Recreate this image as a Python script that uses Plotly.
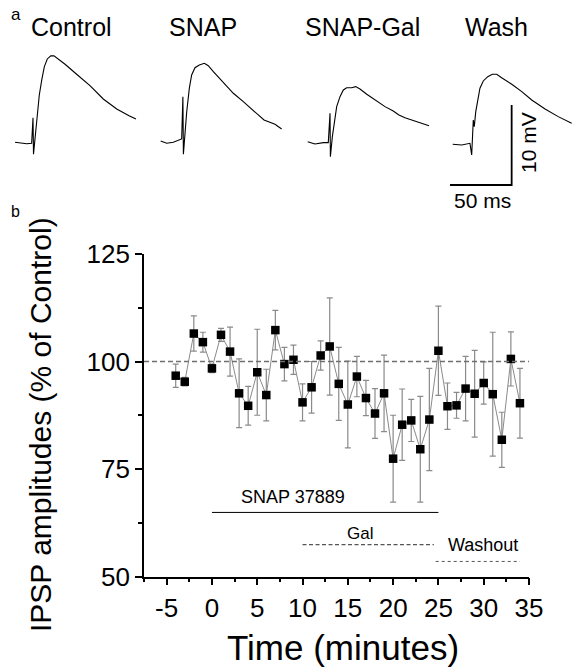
import plotly.graph_objects as go

# ---------------- data: panel b ----------------
time_min = list(range(-4, 35))
ipsp_mean = [96.7, 95.3, 106.5, 104.5, 98.4, 106.2, 102.3, 92.6, 89.7, 97.5,
             92.2, 107.3, 99.4, 100.4, 90.5, 94.0, 101.4, 103.5, 94.8, 90.0,
             96.5, 91.5, 87.9, 92.6, 77.4, 85.3, 86.3, 79.6, 86.5, 102.5,
             89.6, 89.8, 93.7, 92.5, 95.0, 92.4, 81.8, 100.6, 90.3]
ipsp_sem = [2.7, 1.0, 4.1, 2.3, 1.0, 1.5, 5.7, 8.0, 4.5, 10.0,
            6.0, 4.6, 3.9, 3.4, 4.3, 6.0, 3.4, 11.3, 8.5, 10.1,
            4.7, 4.1, 5.8, 8.9, 10.1, 8.3, 4.9, 12.3, 11.9, 10.4,
            5.4, 3.0, 7.5, 10.1, 4.9, 14.4, 6.4, 6.3, 8.1]
control_level = 100
snap_period = [0, 25]
gal_period = [10, 24.5]
wash_period = [24.7, 34]
x_ticks = [-5, 0, 5, 10, 15, 20, 25, 30, 35]
x_tick_text = ["-5", "0", "5", "10", "15", "20", "25", "30", "35"]
y_ticks = [50, 75, 100, 125]

# ---------------- data: panel a (traces, ms from trace start, mV from baseline) ----------------
ctrl_t = [0, 4.1, 9.5, 13.5, 14.6, 15.0, 16.5, 18.1, 19.7, 21.7, 23.8, 26.2, 29.0, 31.6,
          35.1, 40.6, 50.0, 60.8, 71.6, 82.5, 92.5, 98.1]
ctrl_v = [0.09, 0.0, -0.09, -0.04, 3.16, -1.41, 1.09, 3.91, 6.0, 7.88, 9.54, 10.5, 10.88,
          10.88, 10.5, 9.84, 8.59, 7.16, 5.5, 4.25, 3.41, 3.0]
snap_t = [0, 4.9, 10.2, 15.1, 17.0, 18.0, 18.4, 19.8, 21.1, 23.2, 25.1, 27.8, 31.3, 35.4,
          38.6, 42.7, 50.8, 58.9, 67.0, 75.1, 83.8, 92.7, 98.1]
snap_v = [0.13, -0.16, -0.04, 0.25, 0.38, 5.66, -1.54, 1.21, 3.79, 6.71, 8.38, 9.29, 9.63,
          9.84, 9.54, 8.79, 7.46, 6.09, 5.04, 3.88, 2.75, 2.21, 1.63]
gal_t = [0, 5.9, 12.7, 16.7, 18.1, 18.4, 20.0, 21.6, 23.5, 26.2, 28.9, 31.6, 35.7, 38.9,
         42.4, 47.9, 54.6, 62.7, 69.4, 74.0, 78.9, 87.0, 98.4]
gal_v = [0.16, -0.13, 0.04, 0.04, 3.71, -1.71, 0.79, 2.66, 4.54, 5.79, 6.63, 6.91, 6.91,
         7.04, 6.75, 6.09, 5.38, 4.54, 4.0, 3.5, 3.16, 2.75, 2.16]
wash_t = [0, 7.3, 14.0, 15.4, 16.7, 17.5, 18.7, 20.3, 22.1, 24.8, 28.4, 32.1, 35.7, 39.7,
          47.9, 56.0, 64.1, 74.9, 85.6, 96.5]
wash_v = [0.03, -0.06, 0.15, -1.31, 3.06, 2.23, 4.1, 5.78, 7.03, 7.94, 8.48, 8.78, 8.78,
          8.35, 7.53, 6.6, 5.56, 4.44, 3.48, 2.65]
trace_labels = ["Control", "SNAP", "SNAP-Gal", "Wash"]
scale_ms = 50
scale_mv = 10

# ---------------- layout constants ----------------
W, H = 573, 669
def px_x(p):
    return p / W
def px_y(p):
    return 1 - p / H

FONT = "Liberation Sans, Arial, Helvetica, sans-serif"
MS_PER_PX = 1 / 1.233
trace_offsets_ms = [15 * MS_PER_PX, 160.7 * MS_PER_PX, 307.7 * MS_PER_PX, 452.7 * MS_PER_PX]
trace_base_mv = [7.13, 7.25, 7.13, 6.94]
label_px = [(71, 27), (203, 27), (362, 27), (496, 27)]

fig = go.Figure()

# panel a traces
for (t, v), off, base in zip([(ctrl_t, ctrl_v), (snap_t, snap_v), (gal_t, gal_v), (wash_t, wash_v)],
                             trace_offsets_ms, trace_base_mv):
    fig.add_trace(go.Scatter(x=[off + ti for ti in t], y=[base + vi for vi in v],
                             mode="lines", line=dict(color="black", width=1.1),
                             xaxis="x2", yaxis="y2", hoverinfo="skip"))

# scale bar
sb_x0 = 450 * MS_PER_PX
sb_y0 = 1.875
fig.add_trace(go.Scatter(x=[sb_x0, sb_x0 + scale_ms, sb_x0 + scale_ms],
                         y=[sb_y0, sb_y0, sb_y0 + scale_mv],
                         mode="lines", line=dict(color="black", width=1.8),
                         xaxis="x2", yaxis="y2", hoverinfo="skip"))

# panel b: control line
fig.add_shape(type="line", xref="x domain", yref="y", x0=0, x1=1,
              y0=control_level, y1=control_level,
              line=dict(color="#707070", width=1.5, dash="5px,3px"))

# drug application bars
fig.add_trace(go.Scatter(x=snap_period, y=[64.9, 64.9], mode="lines",
                         line=dict(color="black", width=1), hoverinfo="skip"))
fig.add_trace(go.Scatter(x=gal_period, y=[57.4, 57.4], mode="lines",
                         line=dict(color="#555555", width=1.2, dash="4px,2.5px"), hoverinfo="skip"))
fig.add_trace(go.Scatter(x=wash_period, y=[53.5, 53.5], mode="lines",
                         line=dict(color="#555555", width=1, dash="dot"), hoverinfo="skip"))

# data points
fig.add_trace(go.Scatter(
    x=time_min, y=ipsp_mean, mode="lines+markers",
    line=dict(color="#8a8a8a", width=1),
    marker=dict(symbol="square", size=8.5, color="black"),
    error_y=dict(type="data", array=ipsp_sem, visible=True,
                 color="#8a8a8a", thickness=1.2, width=3),
))

def paper_text(text, x, y, size, angle=0):
    return dict(text=text, x=px_x(x), y=px_y(y), xref="paper", yref="paper",
                xanchor="center", yanchor="middle", showarrow=False, textangle=angle,
                font=dict(size=size, family=FONT, color="black"))

annotations = [paper_text(t, x, y, 25) for t, (x, y) in zip(trace_labels, label_px)]
annotations += [
    paper_text("a", 16, 15, 17),
    paper_text("b", 15, 211, 16),
    paper_text("10 mV", 528, 143, 21, -90),
    paper_text("50 ms", 483, 200, 21),
    paper_text("IPSP amplitudes (% of Control)", 40, 425, 30, -90),
    paper_text("Time (minutes)", 343, 647, 35),
    dict(text="SNAP 37889", x=8.96, y=68.5, xref="x", yref="y", showarrow=False,
         xanchor="center", yanchor="middle", font=dict(size=18, family=FONT, color="black")),
    dict(text="Gal", x=16.3, y=60.0, xref="x", yref="y", showarrow=False,
         xanchor="center", yanchor="middle", font=dict(size=17, family=FONT, color="black")),
    dict(text="Washout", x=29.9, y=57.4, xref="x", yref="y", showarrow=False,
         xanchor="center", yanchor="middle", font=dict(size=18, family=FONT, color="black")),
]

fig.update_layout(
    template="none",
    width=W, height=H, margin=dict(l=0, r=0, t=0, b=0, pad=0),
    paper_bgcolor="white", plot_bgcolor="white", showlegend=False,
    font=dict(family=FONT, color="black"),
    xaxis=dict(domain=[px_x(144), px_x(529)], anchor="y", range=[-7.5, 35],
               tickmode="array", tickvals=x_ticks, ticktext=x_tick_text,
               ticks="outside", ticklen=7, tickwidth=1.5, automargin=False,
               tickcolor="black", showline=True, linecolor="black", linewidth=1.8,
               showgrid=False, zeroline=False, tickfont=dict(size=26, family=FONT),
               minor=dict(dtick=2.5, tick0=0, ticks="outside", ticklen=4,
                          tickwidth=1.5, tickcolor="black", showgrid=False)),
    yaxis=dict(domain=[px_y(576.5), px_y(254)], anchor="x", range=[50, 125],
               tickmode="array", tickvals=y_ticks,
               ticks="outside", ticklen=7, tickwidth=1.5, automargin=False,
               tickcolor="black", showline=True, linecolor="black", linewidth=1.8,
               showgrid=False, zeroline=False, tickfont=dict(size=26, family=FONT),
               minor=dict(dtick=12.5, tick0=50, ticks="outside", ticklen=4,
                          tickwidth=1.5, tickcolor="black", showgrid=False)),
    xaxis2=dict(domain=[0, 1], anchor="y2", range=[0, W * MS_PER_PX], visible=False,
                automargin=False),
    yaxis2=dict(domain=[px_y(200), px_y(40)], anchor="x2", range=[0, 20], visible=False,
                automargin=False),
    annotations=annotations,
)

fig.write_html("out.html",
               config={"displayModeBar": False},
               post_script="document.body.style.margin='0';document.body.style.overflow='hidden';")
